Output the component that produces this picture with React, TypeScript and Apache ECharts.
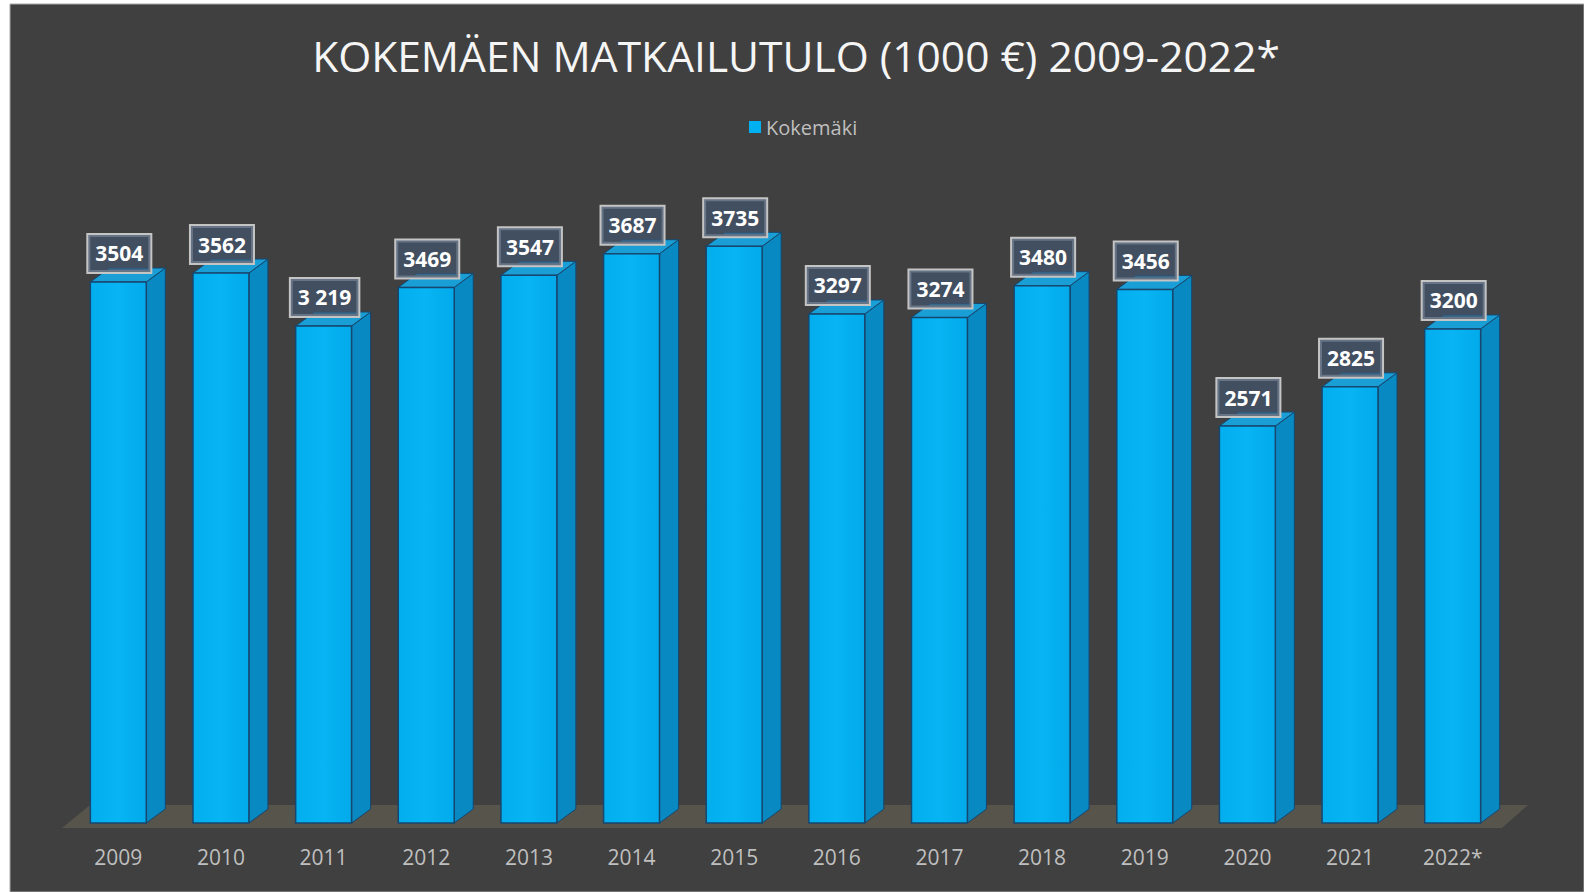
import React, { useEffect, useRef } from "react";
import * as echarts from "echarts";

const years = ["2009", "2010", "2011", "2012", "2013", "2014", "2015", "2016", "2017", "2018", "2019", "2020", "2021", "2022*"];
const values = [3504, 3562, 3219, 3469, 3547, 3687, 3735, 3297, 3274, 3480, 3456, 2571, 2825, 3200];
const valueLabels = ["3504", "3562", "3 219", "3469", "3547", "3687", "3735", "3297", "3274", "3480", "3456", "2571", "2825", "3200"];
const seriesName = "Kokemäki";
const titleText = "KOKEMÄEN MATKAILUTULO (1000 €) 2009-2022*";

export default function App() {
  const ref = useRef<HTMLDivElement>(null);
  useEffect(() => {
    if (!ref.current) return;
    const chart = echarts.init(ref.current, null, { renderer: "svg" });
    const font = '"Open Sans", "DejaVu Sans", sans-serif';
    const barData = values.map((v, i) => [i, v]);
    const option: any = {
      animation: false,
      backgroundColor: "#ffffff",
      textStyle: { fontFamily: font },
      graphic: [
        { type: "rect", z: -10, shape: { x: 10, y: 4, width: 1574, height: 888 }, style: { fill: "#404040", stroke: "#a8a8a8", lineWidth: 1 } },
        {
          type: "text", x: 796, y: 55,
          style: { text: titleText, fill: "#f5f5f5", font: `42.5px ${font}`, align: "center", verticalAlign: "middle" },
        },
      ],
      legend: {
        data: [seriesName],
        left: 744, top: 112,
        icon: "rect", itemWidth: 12, itemHeight: 12, itemGap: 5,
        textStyle: { color: "#bfbfbf", fontSize: 20, fontFamily: font },
      },
      grid: { left: 67, right: 80, top: 205.4, bottom: 69 },
      xAxis: {
        type: "category",
        data: years,
        axisLine: { show: false },
        axisTick: { show: false },
        axisLabel: { color: "#bfbfbf", fontSize: 21, fontFamily: font, margin: 23 },
      },
      yAxis: { type: "value", min: 0, max: 4000, show: false, splitLine: { show: false } },
      series: [
        {
          type: "custom",
          name: "floor",
          z: 1,
          silent: true,
          data: [[0, 0]],
          encode: { x: 0, y: 1 },
          renderItem: (params: any, api: any) => {
            const band = api.size([1, 0])[0];
            const l = api.coord([0, 0]);
            const r = api.coord([years.length - 1, 0]);
            const left = l[0] - band / 2;
            const right = r[0] + band / 2;
            const yb = l[1];
            return {
              type: "polygon",
              shape: {
                points: [
                  [left - 5, yb + 5],
                  [left + 23, yb - 18],
                  [right + 24, yb - 18],
                  [right - 2, yb + 5],
                ],
              },
              style: { fill: "#57544c" },
            };
          },
        },
        {
          type: "custom",
          name: seriesName,
          z: 2,
          itemStyle: { color: "#00b0f0" },
          data: barData,
          encode: { x: 0, y: 1 },
          renderItem: (params: any, api: any) => {
            const idx = api.value(0);
            const v = api.value(1);
            const top = api.coord([idx, v]);
            const base = api.coord([idx, 0]);
            const bw = api.size([1, 0])[0] * 0.545;
            const dx = 19, dy = -14;
            const x0 = top[0] - bw / 2, x1 = top[0] + bw / 2;
            const yT = top[1], yB = base[1];
            const edge = "#17466e";
            return {
              type: "group",
              children: [
                {
                  type: "polygon",
                  shape: { points: [[x1, yT], [x1 + dx, yT + dy], [x1 + dx, yB + dy], [x1, yB]] },
                  style: { fill: "#0989c2", stroke: edge, lineWidth: 1 },
                },
                {
                  type: "polygon",
                  shape: { points: [[x0, yT], [x0 + dx, yT + dy], [x1 + dx, yT + dy], [x1, yT]] },
                  style: { fill: "#1a9ed6", stroke: edge, lineWidth: 1 },
                },
                {
                  type: "rect",
                  shape: { x: x0, y: yT, width: bw, height: yB - yT },
                  style: {
                    fill: new echarts.graphic.LinearGradient(0, 0, 1, 0, [
                      { offset: 0, color: "#03aeee" },
                      { offset: 0.5, color: "#08b4f3" },
                      { offset: 1, color: "#02aaea" },
                    ]),
                    stroke: edge, lineWidth: 1.5,
                  },
                },
                {
                  type: "text",
                  z2: 10,
                  style: {
                    text: valueLabels[idx],
                    x: top[0] + 1,
                    y: yT - 10,
                    align: "center",
                    verticalAlign: "bottom",
                    fill: "#ffffff",
                    font: `bold 21px ${font}`,
                    lineHeight: 25,
                    backgroundColor: "rgba(66,84,110,0.72)",
                    borderColor: "#c4c4c4",
                    borderWidth: 2,
                    padding: [6, 7, 6, 7],
                  },
                },
              ],
            };
          },
        },
      ],
    };
    chart.setOption(option);
    return () => chart.dispose();
  }, []);
  return <div ref={ref} style={{ position: "absolute", left: 0, top: 0, width: 1584, height: 892 }} />;
}
